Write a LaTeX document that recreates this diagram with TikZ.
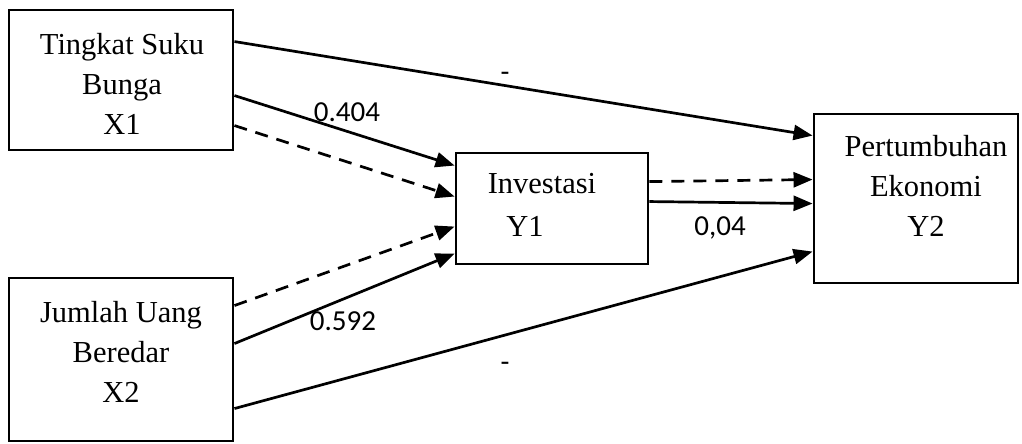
\documentclass[tikz,border=0pt]{standalone}
\usepackage{fontspec}
\setmainfont{Liberation Serif}
\newfontfamily\numfont{Carlito}
\usetikzlibrary{arrows.meta}
\begin{document}
\begin{tikzpicture}[x=1pt,y=-1pt,
  varbox/.style={draw,line width=2.9pt,rectangle,inner sep=0pt},
  boxtext/.style={align=center,font=\fontsize{30.5}{40}\selectfont,inner sep=0pt},
  coef/.style={font=\numfont\fontsize{29}{34}\selectfont,inner sep=0pt},
  path/.style={line width=2.7pt,-{Triangle[length=19pt,width=15pt]}},
  indirect/.style={path,dash pattern=on 13pt off 9pt}]
\useasboundingbox (0,0) rectangle (1022,444);

% variable boxes
\node[varbox,minimum width=224pt,minimum height=140pt] (x1) at (121,80) {};
\node[varbox,minimum width=224pt,minimum height=163pt] (x2) at (121,359.5) {};
\node[varbox,minimum width=192pt,minimum height=111pt] (y1) at (552,208.5) {};
\node[varbox,minimum width=204pt,minimum height=169pt] (y2) at (916,198.5) {};

% box texts
\node[boxtext] (tx1) at (122,84) {Tingkat Suku\\Bunga\\X1};
\node[boxtext] (tx2) at (121,352) {Jumlah Uang\\Beredar\\X2};
\node[boxtext] (ty1a) at (542,184) {Investasi};
\node[boxtext] (ty1b) at (525,226) {Y1};
\node[boxtext] (ty2) at (926,186) {Pertumbuhan\\Ekonomi\\Y2};

% direct paths
\draw[path] ([yshift=-33pt]x1.north east) -- ([yshift=-23pt]y2.north west);
\draw[path] ([yshift=-87pt]x1.north east) -- ([yshift=-14pt]y1.north west);
\draw[path] ([yshift=-67pt]x2.north east) -- ([yshift=-102pt]y1.north west);
\draw[path] ([yshift=-132pt]x2.north east) -- ([yshift=-139pt]y2.north west);
\draw[path] ([yshift=-50pt]y1.north east) -- ([yshift=-91pt]y2.north west);

% indirect paths
\draw[indirect] ([yshift=-117pt]x1.north east) -- ([yshift=-45pt]y1.north west);
\draw[indirect] ([yshift=-29pt]x2.north east) -- ([yshift=-75pt]y1.north west);
\draw[indirect] ([yshift=-30pt]y1.north east) -- ([yshift=-67pt]y2.north west);

% coefficients
\node[coef] (c1) at (347,112) {0.404};
\node[coef] (c2) at (343,321) {0.592};
\node[coef] (c3) at (720,228) {0,04};
\node[coef] (c4) at (505,77) {-};
\node[coef] (c5) at (505,367) {-};
\end{tikzpicture}
\end{document}
